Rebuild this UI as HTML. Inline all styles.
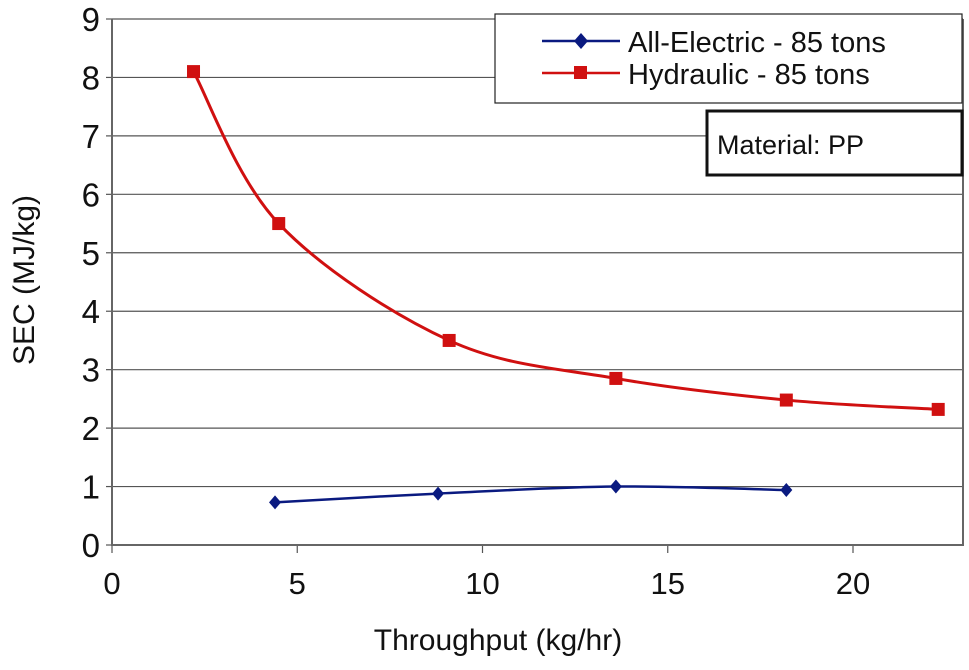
<!DOCTYPE html>
<html><head><meta charset="utf-8"><style>
body{margin:0;background:#fff;font-family:"Liberation Sans",Arial,sans-serif}
svg text{font-family:"Liberation Sans",Arial,sans-serif}
</style></head><body>
<svg id="chart" width="969" height="665" viewBox="0 0 969 665" xmlns="http://www.w3.org/2000/svg">
<g id="grid"></g>
<g id="axes"></g>
<g id="series"></g>
<text x="498" y="650" text-anchor="middle" font-size="30" fill="#111">Throughput (kg/hr)</text>
<text transform="translate(34,280) rotate(-90)" text-anchor="middle" font-size="30" fill="#111">SEC (MJ/kg)</text>
<g>
<rect x="495" y="14" width="467" height="89" fill="#fff" stroke="#222" stroke-width="1.2"/>
<g>
<line x1="542" y1="41" x2="620" y2="41" stroke="#0a1a80" stroke-width="2.5"/>
<path d="M581 33 L588 41 L581 49 L574 41 Z" fill="#0a1a80"/>
<text x="628" y="52" font-size="29" fill="#111">All-Electric - 85 tons</text>
</g>
<g>
<line x1="542" y1="73" x2="620" y2="73" stroke="#d01010" stroke-width="2.5"/>
<rect x="574" y="66" width="13" height="13" fill="#d01010"/>
<text x="628" y="84" font-size="29" fill="#111">Hydraulic - 85 tons</text>
</g>
</g>
<g>
<rect x="707" y="111" width="255" height="64" fill="#fff" stroke="#111" stroke-width="3"/>
<text x="717" y="154" font-size="27" fill="#111">Material: PP</text>
</g>
</svg>
<script>
const xTicks=[0,5,10,15,20];
const yTicks=[0,1,2,3,4,5,6,7,8,9];
const hydX=[2.2,4.5,9.1,13.6,18.2,22.3];
const hydY=[8.1,5.5,3.5,2.85,2.48,2.32];
const eleX=[4.4,8.8,13.6,18.2];
const eleY=[0.73,0.88,1.0,0.94];
const NS='http://www.w3.org/2000/svg';
const X0=112,X1=963,Y0=545,Y9=19;
const xs=v=>X0+v*(853-112)/20;
const ys=v=>Y0-v*(Y0-Y9)/9;
function mk(tag,attrs,parent){const e=document.createElementNS(NS,tag);for(const k in attrs)e.setAttribute(k,attrs[k]);document.getElementById(parent).appendChild(e);return e;}
yTicks.forEach(t=>{
 if(t>0){const g=mk('line',{x1:X0,x2:X1,y1:ys(t),y2:ys(t),stroke:'#555','stroke-width':1.2},'grid');
 
 }
 const tk=mk('line',{x1:X0-6,x2:X0,y1:ys(t),y2:ys(t),stroke:'#555','stroke-width':1.2},'axes');
 
 
 const l=mk('text',{x:X0-12,y:ys(t)+12,'text-anchor':'end','font-size':33,fill:'#111'},'axes');
 l.textContent=t;
 
 
});
xTicks.forEach(t=>{
 const tk=mk('line',{x1:xs(t),x2:xs(t),y1:Y0,y2:Y0+8,stroke:'#555','stroke-width':1.2},'axes');
 
 
 const l=mk('text',{x:xs(t),y:594,'text-anchor':'middle','font-size':31,fill:'#111'},'axes');
 l.textContent=t;
 
 
});
const ax=mk('path',{d:`M${X0} ${Y9} L${X0} ${Y0} L${X1} ${Y0} L${X1} ${Y9}`,fill:'none',stroke:'#666','stroke-width':2},'axes');


function smooth(px,py){const p=px.map((x,i)=>[xs(x),ys(py[i])]);let d=`M${p[0][0]} ${p[0][1]}`;
 for(let i=0;i<p.length-1;i++){const a=p[i-1]||p[i],b=p[i],c=p[i+1],e=p[i+2]||c;
 d+=` C${b[0]+(c[0]-a[0])/6} ${b[1]+(c[1]-a[1])/6} ${c[0]-(e[0]-b[0])/6} ${c[1]-(e[1]-b[1])/6} ${c[0]} ${c[1]}`;}return d;}
const hl=mk('path',{d:smooth(hydX,hydY),fill:'none',stroke:'#d01010','stroke-width':3},'series');


const el=mk('path',{d:smooth(eleX,eleY),fill:'none',stroke:'#0a1a80','stroke-width':2.5},'series');


hydX.forEach((x,i)=>{const r=mk('rect',{x:xs(x)-6.5,y:ys(hydY[i])-6.5,width:13,height:13,fill:'#d01010'},'series');
 
 });
eleX.forEach((x,i)=>{const cx=xs(x),cy=ys(eleY[i]);const r=mk('path',{d:`M${cx} ${cy-7} L${cx+6} ${cy} L${cx} ${cy+7} L${cx-6} ${cy} Z`,fill:'#0a1a80'},'series');
 
 });
</script>
</body></html>
